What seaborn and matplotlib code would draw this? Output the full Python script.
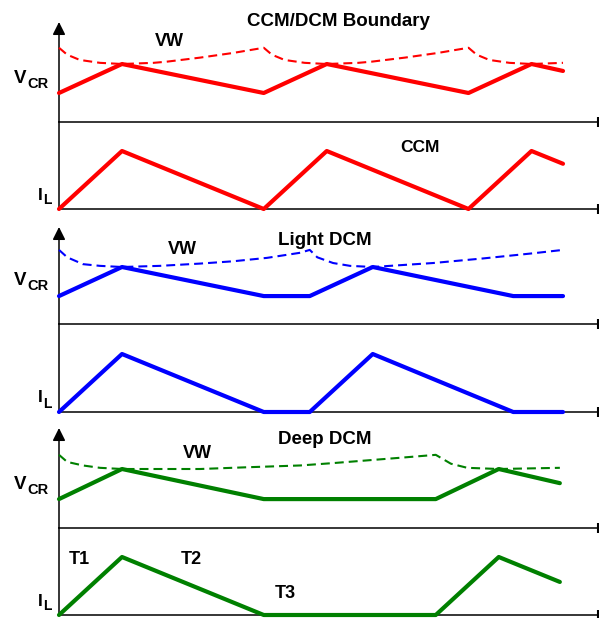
import numpy as np
import pandas as pd
import matplotlib
matplotlib.use('Agg')
import matplotlib.pyplot as plt
import seaborn as sns

# time in units of T1, amplitude in units of the peak value
ccm_t = [0, 1, 3.25, 4.25, 6.5, 7.5, 8.0]
ccm_vcr = [0.5, 1, 0.5, 1, 0.5, 1, 0.88]
ccm_il = [0, 1, 0, 1, 0, 1, 0.78]
ccm_vw_t = [0, 0.13, 0.33, 0.65, 1.0, 1.5, 1.71, 2.24, 2.76, 3.25,
            3.38, 3.58, 3.9, 4.25, 4.75, 4.96, 5.49, 6.01, 6.5,
            6.63, 6.83, 7.15, 7.5, 8.0]
ccm_vw = [1.28, 1.16, 1.07, 1.02, 1.0, 1.02, 1.04, 1.11, 1.19, 1.28,
          1.16, 1.07, 1.02, 1.0, 1.02, 1.04, 1.11, 1.19, 1.28,
          1.16, 1.07, 1.02, 1.0, 1.02]

light_t = [0, 1, 3.25, 3.98, 4.98, 7.21, 8.0]
light_vcr = [0.49, 1, 0.49, 0.49, 1, 0.49, 0.49]
light_il = [0, 1, 0, 0, 1, 0, 0]
light_vw_t = [0, 0.13, 0.38, 0.65, 1.0, 1.6, 2.24, 2.76, 3.3, 3.83, 3.98,
              4.1, 4.35, 4.62, 4.98, 5.94, 6.73, 7.52, 8.0]
light_vw = [1.3, 1.17, 1.05, 1.02, 1.0, 1.02, 1.06, 1.1, 1.16, 1.25, 1.3,
            1.17, 1.07, 1.02, 1.0, 1.07, 1.15, 1.24, 1.3]

deep_t = [0, 1, 3.25, 5.98, 6.98, 7.95]
deep_vcr = [0.49, 1, 0.49, 0.49, 1, 0.76]
deep_il = [0, 1, 0, 0, 1, 0.57]
deep_vw_t = [0, 0.13, 0.38, 0.65, 1.0, 2.24, 3.0, 3.83, 4.35, 5.41, 5.98,
             6.22, 6.48, 6.98, 7.95]
deep_vw = [1.24, 1.12, 1.06, 1.02, 1.0, 1.0, 1.03, 1.06, 1.1, 1.19, 1.24,
           1.09, 1.02, 1.0, 1.02]

titles = ['CCM/DCM Boundary', 'Light DCM', 'Deep DCM']
colors = ['#ff0000', '#0000ff', '#008000']

sns.set_style('white')
plt.rcParams['font.family'] = ['Liberation Sans', 'DejaVu Sans']
plt.rcParams['font.weight'] = 'bold'
plt.rcParams['text.color'] = 'black'

W, H = 599, 618
fig = plt.figure(figsize=(W / 100, H / 100), dpi=100)


def px(x, y):
    return x / W, 1 - y / H


def make_ax(top, bottom):
    x0, y0 = px(59, bottom)
    return fig.add_axes([x0, y0, (598 - 59) / W, (bottom - top) / H])


# pixel rows: (arrow top, V_CR axis, I_L axis), plus title positions
groups = [(22, 122, 209), (227, 324, 412), (428, 528, 615)]
title_pos = [(338, 21), (325, 240), (325, 440)]
vw_pos = [(169, 42), (182, 250), (197, 453)]
vcr_scale = [58, 57, 59]
xmax = (598 - 59) / 63

data = [
    (ccm_t, ccm_vcr, ccm_il, ccm_vw_t, ccm_vw),
    (light_t, light_vcr, light_il, light_vw_t, light_vw),
    (deep_t, deep_vcr, deep_il, deep_vw_t, deep_vw),
]

for i, (top, mid, bot) in enumerate(groups):
    t, vcr, il, vw_t, vw = data[i]
    c = colors[i]

    ax1 = make_ax(top, mid)
    ax2 = make_ax(mid, bot)

    df_v = pd.DataFrame({'t': t, 'v': vcr})
    df_w = pd.DataFrame({'t': vw_t, 'v': vw})
    df_i = pd.DataFrame({'t': t, 'v': il})

    sns.lineplot(data=df_v, x='t', y='v', ax=ax1, color=c, lw=3.0,
                 sort=False, estimator=None, clip_on=False, zorder=5)
    sns.lineplot(data=df_w, x='t', y='v', ax=ax1, color=c, lw=1.5,
                 linestyle=(0, (4.3, 2.4)), sort=False, estimator=None,
                 clip_on=False, zorder=4)
    sns.lineplot(data=df_i, x='t', y='v', ax=ax2, color=c, lw=3.0,
                 sort=False, estimator=None, clip_on=False, zorder=5)

    ax1.set_ylim(0, (mid - top) / vcr_scale[i])
    ax2.set_ylim(0, (bot - mid) / 58)

    for ax in (ax1, ax2):
        ax.set_xlim(0, xmax)
        ax.set_xticks([])
        ax.set_yticks([])
        ax.set_xlabel('')
        ax.set_ylabel('')
        ax.patch.set_alpha(0)
        for s in ('top', 'right'):
            ax.spines[s].set_visible(False)
        ax.spines['bottom'].set_color('black')
        ax.spines['bottom'].set_linewidth(1.1)
        ax.spines['left'].set_color('black')
        ax.spines['left'].set_linewidth(1.1)
        ax.plot([1], [0], marker='|', markersize=7, mew=1.5, color='black',
                transform=ax.transAxes, clip_on=False)

    ax1.spines['left'].set_visible(False)
    ax1.annotate('', xy=(0, 1), xytext=(0, 0), xycoords='axes fraction',
                 arrowprops=dict(arrowstyle='-|>', color='black', lw=1.1,
                                 mutation_scale=19, shrinkA=0, shrinkB=0))

    fig.text(*px(*title_pos[i]), titles[i], ha='center', va='center',
             fontsize=13.5, fontweight='bold')
    fig.text(*px(*vw_pos[i]), 'VW', ha='center', va='center',
             fontsize=13, fontweight='bold')

    fig.text(*px(26, mid - 43.5), 'V', ha='right', va='center',
             fontsize=13.5, fontweight='bold')
    fig.text(*px(27, mid - 38.5), 'CR', ha='left', va='center',
             fontsize=10.5, fontweight='bold')
    fig.text(*px(42.5, bot - 14), 'I', ha='right', va='center',
             fontsize=12.5, fontweight='bold')
    fig.text(*px(43, bot - 8.5), 'L', ha='left', va='center',
             fontsize=10, fontweight='bold')

fig.text(*px(420, 148), 'CCM', ha='center', va='center', fontsize=12.5,
         fontweight='bold', family=['Liberation Sans Narrow', 'Liberation Sans'])

for lbl, pos in zip(['T1', 'T2', 'T3'], [(79, 559), (191, 559), (285, 593)]):
    fig.text(*px(*pos), lbl, ha='center', va='center', fontsize=13,
             fontweight='bold')

fig.savefig('out.png', dpi=100)
